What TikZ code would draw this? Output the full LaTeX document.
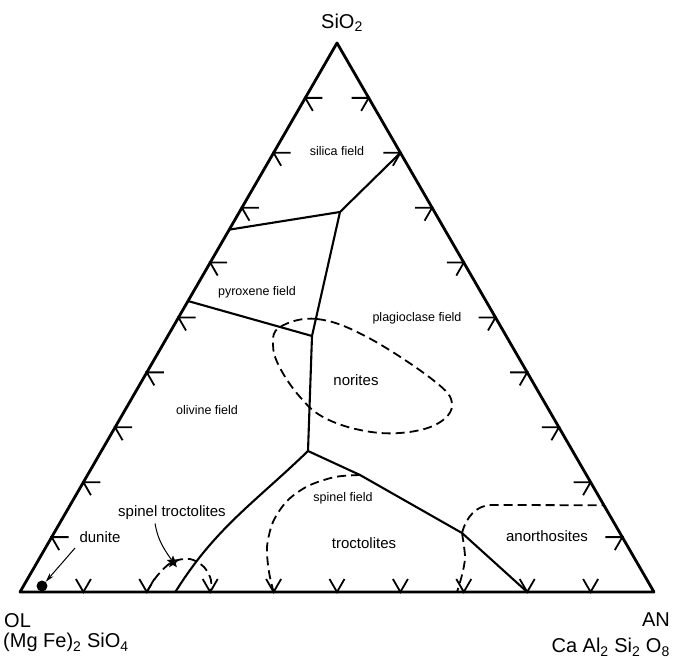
\documentclass[tikz,border=0pt]{standalone}
\usepackage{fontspec}
\setmainfont{Liberation Sans}
\usetikzlibrary{calc, shapes.geometric, arrows.meta}
\tikzset{
edge/.style={line width=2.8pt, line join=round}, % sides of the triangle
cotectic/.style={line width=2.1pt, line join=round}, % field boundaries
rockline/.style={line width=1.8pt, dash pattern=on 9pt off 5pt}, % dashed outlines of the rock types
pointer/.style={line width=1pt}, % thin lines from a label to its spot
tick/.style={line width=1.8pt}, % the marks along the sides
field/.style={font=\fontsize{12.5}{14}\selectfont}, % names of the fields
rock/.style={font=\fontsize{15}{17}\selectfont}, % names of the rocks
corner/.style={font=\fontsize{20}{23}\selectfont, inner sep=0pt}, % end members
}
\begin{document}
\begin{tikzpicture}[x=1pt,y=1pt]
    \useasboundingbox (0,0) rectangle (674,660);
    \coordinate (OL) at (20,68);
    \coordinate (AN) at (654,68);
    \coordinate (SI) at (337,617);

    \draw[edge] (OL) -- (AN) -- (SI) -- cycle;

    % marks on the three sides
    \foreach \i in {1,...,9} {
        \coordinate (b\i) at ($(OL)!\i/10!(AN)$);
        \coordinate (l\i) at ($(OL)!\i/10!(SI)$);
        \coordinate (r\i) at ($(AN)!\i/10!(SI)$);
        \draw[tick] (b\i) +(120:15) -- +(0,0) -- +(60:15);
        \draw[tick] (l\i) +(0:17) -- +(0,0) -- +(-60:15);
        \draw[tick] (r\i) +(180:17) -- +(0,0) -- +(-120:15);
    }

    % field boundaries
    \coordinate (J1) at (340,448);
    \coordinate (J2) at (312,324);
    \coordinate (J3) at (308,209);
    \coordinate (ct1) at (360,185);
    \coordinate (ct2) at (462,127);
    \coordinate (an1) at ($(AN)!0.158!(SI)$);

    \draw[cotectic] ($(OL)!0.66!(SI)$) -- (J1) -- (r8);
    \draw[cotectic] (J1) -- (J2) -- (J3);
    \draw[cotectic] ($(OL)!0.53!(SI)$) -- (J2);
    \draw[cotectic] (J3) to[out=-136,in=58] ($(OL)!0.245!(AN)$);
    \draw[cotectic] (J3) -- (ct1) -- (ct2) -- (b8);

    % rock outlines
    \draw[rockline] plot[smooth cycle, tension=0.65] coordinates {(280,333) (317,341) (367,323) (433,280) (452,256) (437,236) (400,227) (360,230) (323,243) (300,263) (280,292) (273,315)};
    \draw[rockline] plot[smooth] coordinates {(ct1) (335,183) (308,174) (287,159) (273,138) (267,113) (269,88) (b4)};
    \draw[rockline] plot[smooth] coordinates {(ct2) (465,103) (462,85) (457,68)};
    \draw[rockline] (ct2) to[out=75,in=180] (492,155) -- (an1);
    \draw[rockline] plot[smooth] coordinates {(b2) (157,84) (172,98) (190,101) (204,93) (211,80) (b3)};

    % labels
    \node[corner] (si) at (342,637) {SiO\textsubscript{2}};
    \node[corner, anchor=base west] (ol) at (4,32) {OL};
    \node[corner, anchor=base west] (olf) at (3,12) {(Mg Fe)\textsubscript{2} SiO\textsubscript{4}};
    \node[corner, anchor=base east] (an) at (670,33) {AN};
    \node[corner, anchor=base east] (anf) at (670,7) {Ca Al\textsubscript{2} Si\textsubscript{2} O\textsubscript{8}};

    \node[field] (silica) at (337,509) {silica field};
    \node[field] (pyrox) at (257,368) {pyroxene field};
    \node[field] (plag) at (417,342) {plagioclase field};
    \node[field] (oliv) at (207,250) {olivine field};
    \node[field] (spin) at (343,162) {spinel field};
    \node[rock] (norit) at (356,280) {norites};
    \node[rock] (trocto) at (364,117) {troctolites};
    \node[rock] (anorth) at (547,124) {anorthosites};
    \node[rock] (sptrocto) at (172,147) {spinel troctolites};
    \node[rock] (dun) at (100,123) {dunite};

    % pointers
    \node[star, star points=5, star point ratio=2.2, fill, inner sep=0pt, minimum size=13pt] (spstar) at (173,98) {};
    \draw[pointer] ([xshift=-17pt]sptrocto.south) to[out=-80,in=125] (spstar);
    \node[circle, fill, inner sep=0pt, minimum size=11pt] (dot) at (42,74) {};
    \draw[pointer, -{Stealth[length=9pt,width=5pt]}] ([shift={(-1pt,-2pt)}]dun.south west) -- (dot);
\end{tikzpicture}
\end{document}
